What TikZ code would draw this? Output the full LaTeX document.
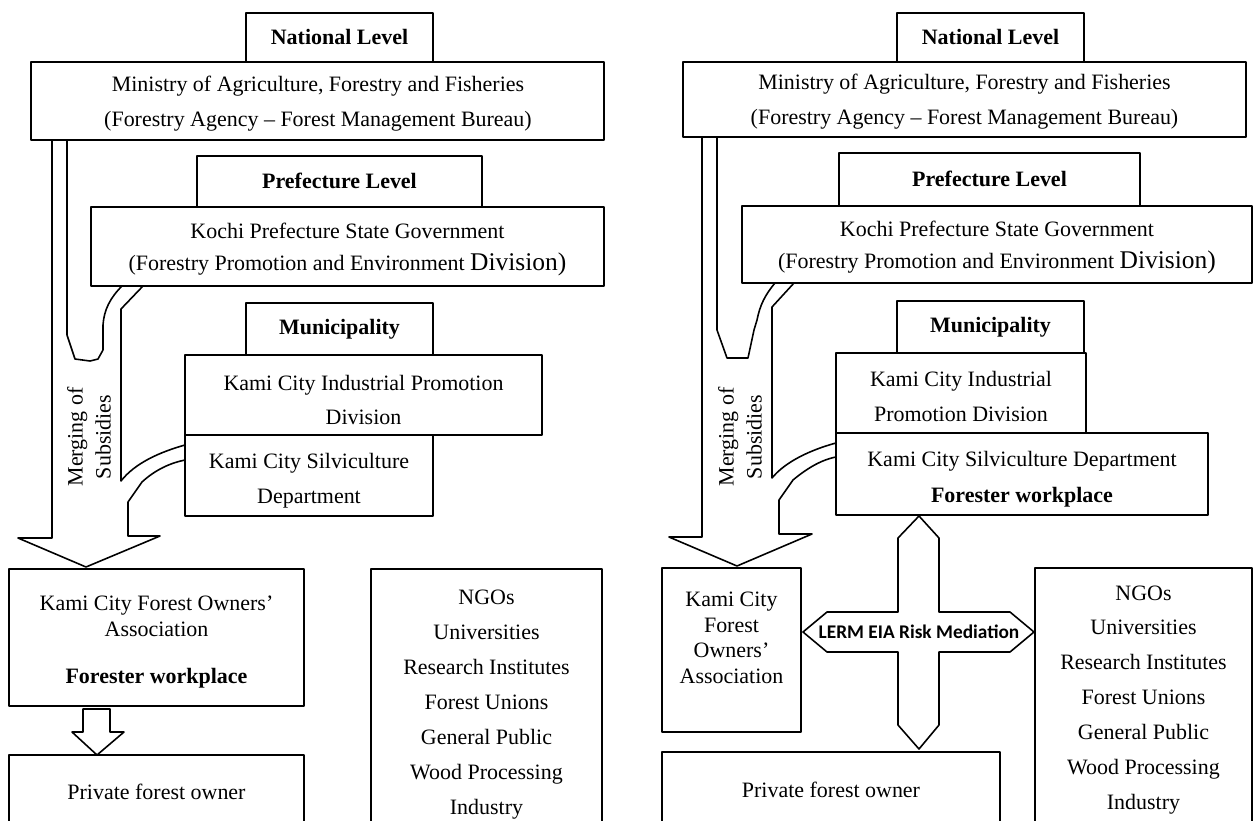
\documentclass[tikz,border=0pt]{standalone}
\usepackage{fontspec}
\setmainfont{Liberation Serif}
\newfontfamily\lermfont{Carlito}

\begin{document}
\begin{tikzpicture}[x=0.02cm,y=-0.02cm,line cap=round,line join=round,line width=0.9pt,
  lbl/.style={inner sep=0,align=center,font=\fontsize{12.5}{19.9}\selectfont},
  headlbl/.style={inner sep=0,font=\fontsize{12.5}{15}\selectfont\bfseries},
  tightlbl/.style={lbl,font=\fontsize{12.5}{15}\selectfont}]
  \useasboundingbox (0,0) rectangle (1254,821);
  \clip (0,0) rectangle (1254,821);

  % left chart
  \draw (246,13) rectangle (433,62);
  \draw (31,62) rectangle (604,140);
  \draw (197,156) rectangle (482,207);
  \draw (91,207) rectangle (604,286);
  \draw (246,303) rectangle (433,355);
  \draw (185,355) rectangle (542,435);
  \draw (185,435) rectangle (433,516);
  \draw (9,569) rectangle (304,706);
  \draw (9,755) rectangle (304,840);
  \draw (371,569) rectangle (602,840);
  \draw (52,140) -- (52,538) -- (18,538) -- (86,567) -- (160,536) -- (128,536) -- (128,502) -- (142,482)
    .. controls (155,470) and (170,463) .. (185,460);
  \draw (67,140) -- (67,335) -- (75,359) -- (90,361) -- (98,359) -- (103,350) -- (103,325)
    .. controls (104,310) and (110,298) .. (122,286);
  \draw (185,445) .. controls (160,452) and (135,463) .. (121,481) -- (121,309) -- (143,286);
  \draw (83,709) -- (83,732) -- (72,732) -- (97,755) -- (124,732) -- (110,732) -- (110,709) -- cycle;

  \node[headlbl] (natL) at (339.5,37) {National Level};
  \node[lbl] (minL) at (318,103.5) {Ministry of Agriculture, Forestry and Fisheries\\(Forestry Agency -- Forest Management Bureau)};
  \node[headlbl] (preL) at (339.5,181) {Prefecture Level};
  \node[lbl,font=\fontsize{12.5}{18.2}\selectfont] (kocL) at (347.5,249) {Kochi Prefecture State Government\\(Forestry Promotion and Environment {\fontsize{14.5}{18.2}\selectfont Division)}};
  \node[headlbl] (munL) at (339.5,329) {Municipality};
  \node[lbl] (indL) at (363.5,400) {Kami City Industrial Promotion\\Division};
  \node[lbl] (silL) at (309,481) {Kami City Silviculture\\Department};
  \node[lbl,rotate=90,font=\fontsize{12.5}{15.9}\selectfont] (mrgL) at (89,437) {Merging of\\Subsidies};
  \node[tightlbl] (fooL) at (156.5,616) {Kami City Forest Owners'\\Association};
  \node[headlbl] (fwpL) at (156.5,678) {Forester workplace};
  \node[lbl] (priL) at (156.5,792) {Private forest owner};
  \node[lbl] (ngoL) at (486.5,704.5) {NGOs\\Universities\\Research Institutes\\Forest Unions\\General Public\\Wood Processing\\Industry};

  % right chart
  \draw (897,13) rectangle (1084,62);
  \draw (683,62) rectangle (1246,137);
  \draw (839,153) rectangle (1140,206);
  \draw (742,206) rectangle (1252,283);
  \draw (897,301) rectangle (1084,353);
  \draw (836,353) rectangle (1086,433);
  \draw (836,433) rectangle (1208,515);
  \draw (662,568) rectangle (801,732);
  \draw (662,752) rectangle (1000,840);
  \draw (1035,568) rectangle (1252,840);
  \draw (702,137) -- (702,537) -- (669,537) -- (737,566) -- (812,534) -- (779,534) -- (779,500) -- (793,480)
    .. controls (805,470) and (820,460) .. (836,457);
  \draw (717,137) -- (717,330) -- (727,358) -- (748,358) -- (754,330) -- (757,320)
    .. controls (760,305) and (765,295) .. (775,283);
  \draw (836,443) .. controls (810,450) and (785,462) .. (772,478) -- (772,307) -- (794,283);
  \draw (919,516) -- (939,538) -- (939,612) -- (1010,612) -- (1034,632) -- (1010,652) -- (939,652)
    -- (939,725) -- (919,749) -- (898,725) -- (898,652) -- (827,652) -- (803,632) -- (827,612)
    -- (898,612) -- (898,538) -- cycle;

  \node[headlbl] (natR) at (990.5,37) {National Level};
  \node[lbl] (minR) at (964.5,102) {Ministry of Agriculture, Forestry and Fisheries\\(Forestry Agency -- Forest Management Bureau)};
  \node[headlbl] (preR) at (989.5,179) {Prefecture Level};
  \node[lbl,font=\fontsize{12.5}{18.2}\selectfont] (kocR) at (997,247) {Kochi Prefecture State Government\\(Forestry Promotion and Environment {\fontsize{14.5}{18.2}\selectfont Division)}};
  \node[headlbl] (munR) at (990.5,327) {Municipality};
  \node[lbl] (indR) at (961,396.5) {Kami City Industrial\\Promotion Division};
  \node[lbl] (silR) at (1022,461) {Kami City Silviculture Department};
  \node[headlbl] (fwpR) at (1022,497) {Forester workplace};
  \node[lbl,rotate=90,font=\fontsize{12.5}{15.9}\selectfont] (mrgR) at (740,437) {Merging of\\Subsidies};
  \node[lbl,font=\fontsize{12.5}{14.5}\selectfont] (fooR) at (731.5,638) {Kami City\\Forest\\Owners'\\Association};
  \node[inner sep=0,font=\lermfont\fontsize{11}{13}\selectfont\bfseries] (lerm) at (919,632) {LERM EIA Risk Mediation};
  \node[lbl] (priR) at (831,790) {Private forest owner};
  \node[lbl] (ngoR) at (1143.5,700) {NGOs\\Universities\\Research Institutes\\Forest Unions\\General Public\\Wood Processing\\Industry};
\end{tikzpicture}
\end{document}
